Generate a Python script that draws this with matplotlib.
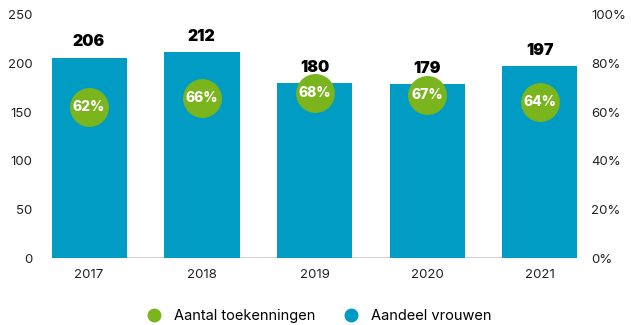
import matplotlib.pyplot as plt
from matplotlib.lines import Line2D

# Data
years = ['2017', '2018', '2019', '2020', '2021']
toekenningen = [206, 212, 180, 179, 197]
aandeel_vrouwen = [62, 66, 68, 67, 64]  # percent

blue = '#009cc4'
green = '#7ab51d'

plt.rcParams['font.family'] = ['Inter', 'DejaVu Sans']

fig = plt.figure(figsize=(6.31, 3.25), dpi=100)
ax = fig.add_axes([0.082, 0.206, 0.833, 0.748])
ax2 = ax.twinx()

x = range(len(years))
bars = ax.bar(x, toekenningen, width=0.67, color=blue, zorder=2)
ax.axhline(0, color='#cccccc', linewidth=2, zorder=1)

# value labels above the bars
for xi, v in zip(x, toekenningen):
    ax.annotate(str(v), (xi, v), xytext=(0, 6), textcoords='offset points',
                ha='center', va='bottom', fontsize=11.5, fontweight='black')

# percentage bubbles on the secondary axis
ax2.plot(list(x), aandeel_vrouwen, 'o', color=green, markersize=27,
         linestyle='none', zorder=3)
for xi, p in zip(x, aandeel_vrouwen):
    ax2.text(xi, p, f'{p}%', ha='center', va='center', color='white',
             fontsize=10, fontweight='heavy', zorder=4)

ax.set_xlim(-0.33, 4.33)
ax.set_ylim(0, 250)
ax2.set_ylim(0, 100)
ax.set_xticks(list(x))
ax.set_xticklabels(years)
ax.set_yticks(range(0, 251, 50))
ax2.set_yticks(range(0, 101, 20))
ax2.set_yticklabels([f'{t}%' for t in range(0, 101, 20)])

for a in (ax, ax2):
    for s in a.spines.values():
        s.set_visible(False)
    a.tick_params(length=0, labelsize=9.5, colors='#222222')
ax.tick_params(axis='y', pad=14)
ax2.tick_params(axis='y', pad=10)
ax.tick_params(axis='x', pad=8)

handles = [
    Line2D([], [], marker='o', color=green, linestyle='none', markersize=9),
    Line2D([], [], marker='o', color=blue, linestyle='none', markersize=9),
]
fig.legend(handles, ['Aantal toekenningen', 'Aandeel vrouwen'],
           loc='center', bbox_to_anchor=(0.5, 0.027), ncol=2, frameon=False,
           fontsize=10.5, handletextpad=0.4, columnspacing=1.4)

fig.savefig('out.png', dpi=100)
